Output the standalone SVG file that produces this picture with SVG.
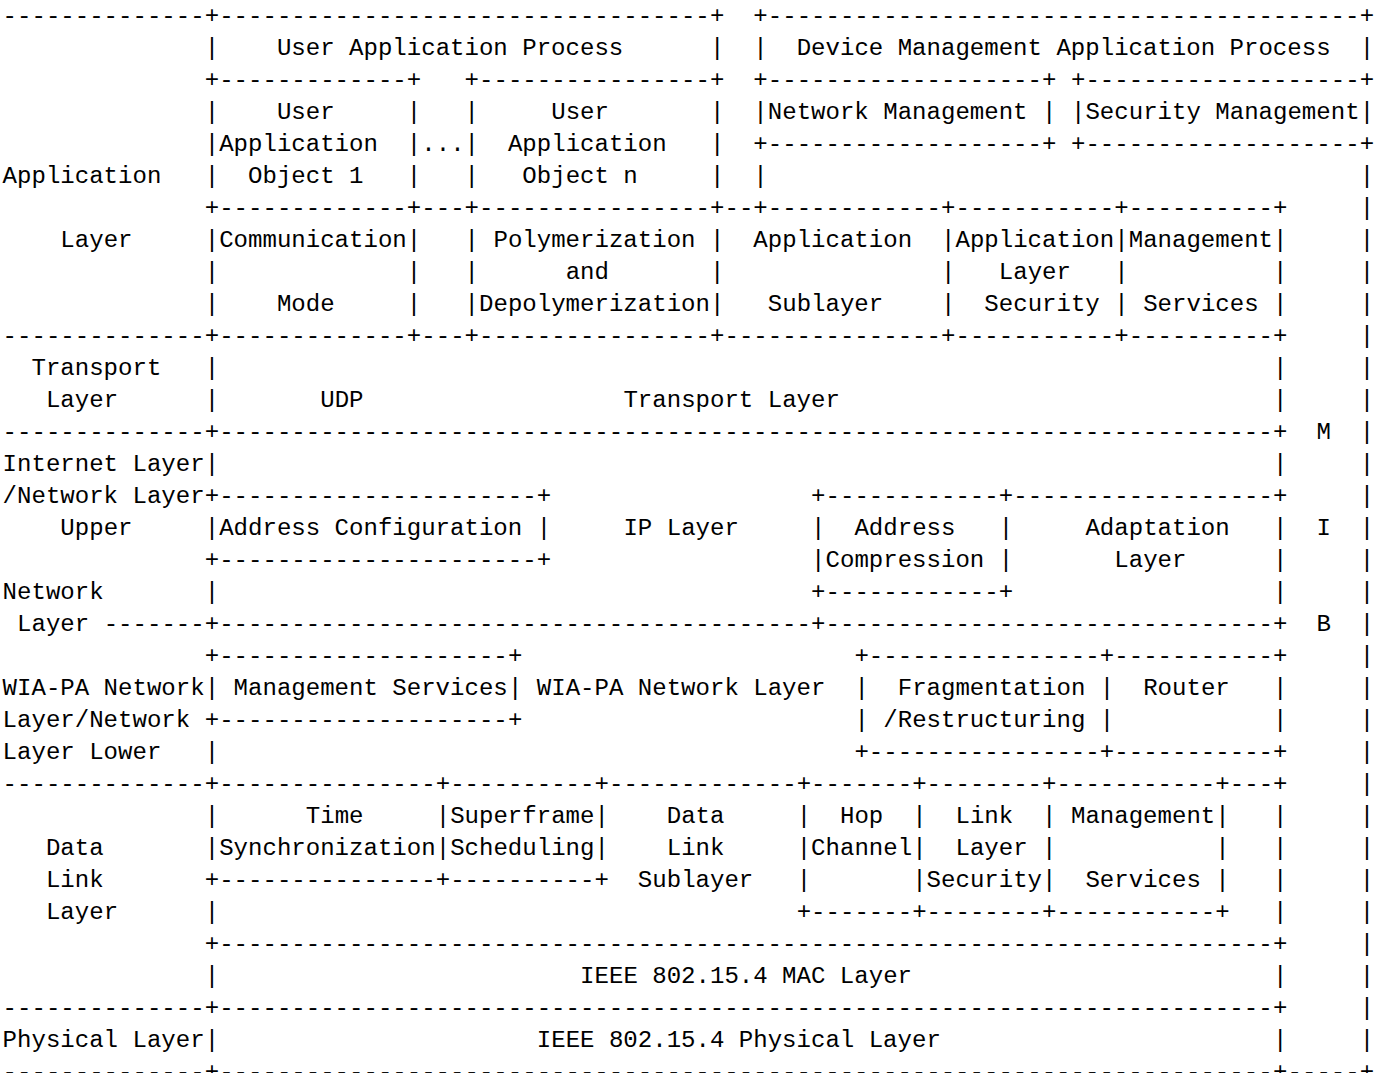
<svg xmlns="http://www.w3.org/2000/svg" width="1379" height="1073" viewBox="0 0 1379 1073">
<style>
.t{font-family:"Liberation Mono","Courier New",monospace;font-size:24.06px;fill:#000}
</style>
<rect width="1379" height="1073" fill="#fff"/>
<g id="application-layer">
<text class="t" y="22.5"><tspan x="2.6">--------------</tspan><tspan x="204.73">+</tspan><tspan x="219.16">----------------------------------</tspan><tspan x="710.04">+</tspan><tspan x="753.35">+</tspan><tspan x="767.79">-----------------------------------------</tspan><tspan x="1359.73">+</tspan></text>
<text class="t" y="54.5"><tspan x="204.73">|</tspan><tspan x="276.91">User Application Process</tspan><tspan x="710.04">|</tspan><tspan x="753.35">|</tspan><tspan x="796.66">Device Management Application Process</tspan><tspan x="1359.73">|</tspan></text>
<text class="t" y="86.5"><tspan x="204.73">+</tspan><tspan x="219.16">-------------</tspan><tspan x="406.85">+</tspan><tspan x="464.6">+</tspan><tspan x="479.04">----------------</tspan><tspan x="710.04">+</tspan><tspan x="753.35">+</tspan><tspan x="767.79">-------------------</tspan><tspan x="1042.1">+</tspan><tspan x="1070.98">+</tspan><tspan x="1085.41">-------------------</tspan><tspan x="1359.73">+</tspan></text>
<text class="t" y="118.5"><tspan x="204.73">|</tspan><tspan x="276.91">User</tspan><tspan x="406.85">|</tspan><tspan x="464.6">|</tspan><tspan x="551.23">User</tspan><tspan x="710.04">|</tspan><tspan x="753.35">|</tspan><tspan x="767.79">Network Management</tspan><tspan x="1042.1">|</tspan><tspan x="1070.98">|</tspan><tspan x="1085.41">Security Management</tspan><tspan x="1359.73">|</tspan></text>
<text class="t" y="150.5"><tspan x="204.73">|</tspan><tspan x="219.16">Application</tspan><tspan x="406.85">|...|</tspan><tspan x="507.91">Application</tspan><tspan x="710.04">|</tspan><tspan x="753.35">+</tspan><tspan x="767.79">-------------------</tspan><tspan x="1042.1">+</tspan><tspan x="1070.98">+</tspan><tspan x="1085.41">-------------------</tspan><tspan x="1359.73">+</tspan></text>
<text class="t" y="182.5"><tspan x="2.6">Application</tspan><tspan x="204.73">|</tspan><tspan x="248.04">Object 1</tspan><tspan x="406.85">|</tspan><tspan x="464.6">|</tspan><tspan x="522.35">Object n</tspan><tspan x="710.04">|</tspan><tspan x="753.35">|</tspan><tspan x="1359.73">|</tspan></text>
<text class="t" y="214.5"><tspan x="204.73">+</tspan><tspan x="219.16">-------------</tspan><tspan x="406.85">+---+</tspan><tspan x="479.04">----------------</tspan><tspan x="710.04">+--+</tspan><tspan x="767.79">------------</tspan><tspan x="941.04">+</tspan><tspan x="955.48">-----------</tspan><tspan x="1114.29">+</tspan><tspan x="1128.73">----------</tspan><tspan x="1273.1">+</tspan><tspan x="1359.73">|</tspan></text>
<text class="t" y="246.5"><tspan x="60.35">Layer</tspan><tspan x="204.73">|</tspan><tspan x="219.16">Communication</tspan><tspan x="406.85">|</tspan><tspan x="464.6">|</tspan><tspan x="493.48">Polymerization</tspan><tspan x="710.04">|</tspan><tspan x="753.35">Application</tspan><tspan x="941.04">|</tspan><tspan x="955.48">Application</tspan><tspan x="1114.29">|</tspan><tspan x="1128.73">Management</tspan><tspan x="1273.1">|</tspan><tspan x="1359.73">|</tspan></text>
<text class="t" y="278.5"><tspan x="204.73">|</tspan><tspan x="406.85">|</tspan><tspan x="464.6">|</tspan><tspan x="565.66">and</tspan><tspan x="710.04">|</tspan><tspan x="941.04">|</tspan><tspan x="998.79">Layer</tspan><tspan x="1114.29">|</tspan><tspan x="1273.1">|</tspan><tspan x="1359.73">|</tspan></text>
<text class="t" y="310.5"><tspan x="204.73">|</tspan><tspan x="276.91">Mode</tspan><tspan x="406.85">|</tspan><tspan x="464.6">|</tspan><tspan x="479.04">Depolymerization</tspan><tspan x="710.04">|</tspan><tspan x="767.79">Sublayer</tspan><tspan x="941.04">|</tspan><tspan x="984.35">Security</tspan><tspan x="1114.29">|</tspan><tspan x="1143.16">Services</tspan><tspan x="1273.1">|</tspan><tspan x="1359.73">|</tspan></text>
<text class="t" y="342.5"><tspan x="2.6">--------------</tspan><tspan x="204.73">+</tspan><tspan x="219.16">-------------</tspan><tspan x="406.85">+---+</tspan><tspan x="479.04">----------------</tspan><tspan x="710.04">+</tspan><tspan x="724.48">---------------</tspan><tspan x="941.04">+</tspan><tspan x="955.48">-----------</tspan><tspan x="1114.29">+</tspan><tspan x="1128.73">----------</tspan><tspan x="1273.1">+</tspan><tspan x="1359.73">|</tspan></text>
</g>
<g id="transport-layer">
<text class="t" y="374.5"><tspan x="31.48">Transport</tspan><tspan x="204.73">|</tspan><tspan x="1273.1">|</tspan><tspan x="1359.73">|</tspan></text>
<text class="t" y="406.5"><tspan x="45.91">Layer</tspan><tspan x="204.73">|</tspan><tspan x="320.23">UDP</tspan><tspan x="623.41">Transport Layer</tspan><tspan x="1273.1">|</tspan><tspan x="1359.73">|</tspan></text>
<text class="t" y="438.5"><tspan x="2.6">--------------</tspan><tspan x="204.73">+</tspan><tspan x="219.16">-------------------------------------------------------------------------</tspan><tspan x="1273.1">+</tspan><tspan x="1316.41">M</tspan><tspan x="1359.73">|</tspan></text>
</g>
<g id="network-layer-upper">
<text class="t" y="470.5"><tspan x="2.6">Internet Layer</tspan><tspan x="204.73">|</tspan><tspan x="1273.1">|</tspan><tspan x="1359.73">|</tspan></text>
<text class="t" y="502.5"><tspan x="2.6">/Network Layer</tspan><tspan x="204.73">+</tspan><tspan x="219.16">----------------------</tspan><tspan x="536.79">+</tspan><tspan x="811.1">+</tspan><tspan x="825.54">------------</tspan><tspan x="998.79">+</tspan><tspan x="1013.23">------------------</tspan><tspan x="1273.1">+</tspan><tspan x="1359.73">|</tspan></text>
<text class="t" y="534.5"><tspan x="60.35">Upper</tspan><tspan x="204.73">|</tspan><tspan x="219.16">Address Configuration</tspan><tspan x="536.79">|</tspan><tspan x="623.41">IP Layer</tspan><tspan x="811.1">|</tspan><tspan x="854.41">Address</tspan><tspan x="998.79">|</tspan><tspan x="1085.41">Adaptation</tspan><tspan x="1273.1">|</tspan><tspan x="1316.41">I</tspan><tspan x="1359.73">|</tspan></text>
<text class="t" y="566.5"><tspan x="204.73">+</tspan><tspan x="219.16">----------------------</tspan><tspan x="536.79">+</tspan><tspan x="811.1">|</tspan><tspan x="825.54">Compression</tspan><tspan x="998.79">|</tspan><tspan x="1114.29">Layer</tspan><tspan x="1273.1">|</tspan><tspan x="1359.73">|</tspan></text>
<text class="t" y="598.5"><tspan x="2.6">Network</tspan><tspan x="204.73">|</tspan><tspan x="811.1">+</tspan><tspan x="825.54">------------</tspan><tspan x="998.79">+</tspan><tspan x="1273.1">|</tspan><tspan x="1359.73">|</tspan></text>
<text class="t" y="630.5"><tspan x="17.04">Layer</tspan><tspan x="103.66">-------</tspan><tspan x="204.73">+</tspan><tspan x="219.16">-----------------------------------------</tspan><tspan x="811.1">+</tspan><tspan x="825.54">-------------------------------</tspan><tspan x="1273.1">+</tspan><tspan x="1316.41">B</tspan><tspan x="1359.73">|</tspan></text>
</g>
<g id="network-layer-lower">
<text class="t" y="662.5"><tspan x="204.73">+</tspan><tspan x="219.16">--------------------</tspan><tspan x="507.91">+</tspan><tspan x="854.41">+</tspan><tspan x="868.85">----------------</tspan><tspan x="1099.85">+</tspan><tspan x="1114.29">-----------</tspan><tspan x="1273.1">+</tspan><tspan x="1359.73">|</tspan></text>
<text class="t" y="694.5"><tspan x="2.6">WIA-PA Network</tspan><tspan x="204.73">|</tspan><tspan x="233.6">Management Services</tspan><tspan x="507.91">|</tspan><tspan x="536.79">WIA-PA Network Layer</tspan><tspan x="854.41">|</tspan><tspan x="897.73">Fragmentation</tspan><tspan x="1099.85">|</tspan><tspan x="1143.16">Router</tspan><tspan x="1273.1">|</tspan><tspan x="1359.73">|</tspan></text>
<text class="t" y="726.5"><tspan x="2.6">Layer/Network</tspan><tspan x="204.73">+</tspan><tspan x="219.16">--------------------</tspan><tspan x="507.91">+</tspan><tspan x="854.41">|</tspan><tspan x="883.29">/Restructuring</tspan><tspan x="1099.85">|</tspan><tspan x="1273.1">|</tspan><tspan x="1359.73">|</tspan></text>
<text class="t" y="758.5"><tspan x="2.6">Layer Lower</tspan><tspan x="204.73">|</tspan><tspan x="854.41">+</tspan><tspan x="868.85">----------------</tspan><tspan x="1099.85">+</tspan><tspan x="1114.29">-----------</tspan><tspan x="1273.1">+</tspan><tspan x="1359.73">|</tspan></text>
</g>
<g id="data-link-layer">
<text class="t" y="790.5"><tspan x="2.6">--------------</tspan><tspan x="204.73">+</tspan><tspan x="219.16">---------------</tspan><tspan x="435.73">+</tspan><tspan x="450.16">----------</tspan><tspan x="594.54">+</tspan><tspan x="608.98">-------------</tspan><tspan x="796.66">+</tspan><tspan x="811.1">-------</tspan><tspan x="912.16">+</tspan><tspan x="926.6">--------</tspan><tspan x="1042.1">+</tspan><tspan x="1056.54">-----------</tspan><tspan x="1215.35">+</tspan><tspan x="1229.79">---</tspan><tspan x="1273.1">+</tspan><tspan x="1359.73">|</tspan></text>
<text class="t" y="822.5"><tspan x="204.73">|</tspan><tspan x="305.79">Time</tspan><tspan x="435.73">|Superframe|</tspan><tspan x="666.73">Data</tspan><tspan x="796.66">|</tspan><tspan x="839.98">Hop</tspan><tspan x="912.16">|</tspan><tspan x="955.48">Link</tspan><tspan x="1042.1">|</tspan><tspan x="1070.98">Management</tspan><tspan x="1215.35">|</tspan><tspan x="1273.1">|</tspan><tspan x="1359.73">|</tspan></text>
<text class="t" y="854.5"><tspan x="45.91">Data</tspan><tspan x="204.73">|</tspan><tspan x="219.16">Synchronization</tspan><tspan x="435.73">|Scheduling|</tspan><tspan x="666.73">Link</tspan><tspan x="796.66">|</tspan><tspan x="811.1">Channel</tspan><tspan x="912.16">|</tspan><tspan x="955.48">Layer</tspan><tspan x="1042.1">|</tspan><tspan x="1215.35">|</tspan><tspan x="1273.1">|</tspan><tspan x="1359.73">|</tspan></text>
<text class="t" y="886.5"><tspan x="45.91">Link</tspan><tspan x="204.73">+</tspan><tspan x="219.16">---------------</tspan><tspan x="435.73">+</tspan><tspan x="450.16">----------</tspan><tspan x="594.54">+</tspan><tspan x="637.85">Sublayer</tspan><tspan x="796.66">|</tspan><tspan x="912.16">|</tspan><tspan x="926.6">Security</tspan><tspan x="1042.1">|</tspan><tspan x="1085.41">Services</tspan><tspan x="1215.35">|</tspan><tspan x="1273.1">|</tspan><tspan x="1359.73">|</tspan></text>
<text class="t" y="918.5"><tspan x="45.91">Layer</tspan><tspan x="204.73">|</tspan><tspan x="796.66">+</tspan><tspan x="811.1">-------</tspan><tspan x="912.16">+</tspan><tspan x="926.6">--------</tspan><tspan x="1042.1">+</tspan><tspan x="1056.54">-----------</tspan><tspan x="1215.35">+</tspan><tspan x="1273.1">|</tspan><tspan x="1359.73">|</tspan></text>
<text class="t" y="950.5"><tspan x="204.73">+</tspan><tspan x="219.16">-------------------------------------------------------------------------</tspan><tspan x="1273.1">+</tspan><tspan x="1359.73">|</tspan></text>
<text class="t" y="982.5"><tspan x="204.73">|</tspan><tspan x="580.1">IEEE 802.15.4 MAC Layer</tspan><tspan x="1273.1">|</tspan><tspan x="1359.73">|</tspan></text>
<text class="t" y="1014.5"><tspan x="2.6">--------------</tspan><tspan x="204.73">+</tspan><tspan x="219.16">-------------------------------------------------------------------------</tspan><tspan x="1273.1">+</tspan><tspan x="1359.73">|</tspan></text>
</g>
<g id="physical-layer">
<text class="t" y="1046.5"><tspan x="2.6">Physical Layer</tspan><tspan x="204.73">|</tspan><tspan x="536.79">IEEE 802.15.4 Physical Layer</tspan><tspan x="1273.1">|</tspan><tspan x="1359.73">|</tspan></text>
<text class="t" y="1078.5"><tspan x="2.6">--------------</tspan><tspan x="204.73">+</tspan><tspan x="219.16">-------------------------------------------------------------------------</tspan><tspan x="1273.1">+</tspan><tspan x="1287.54">-----</tspan><tspan x="1359.73">+</tspan></text>
</g>
</svg>
